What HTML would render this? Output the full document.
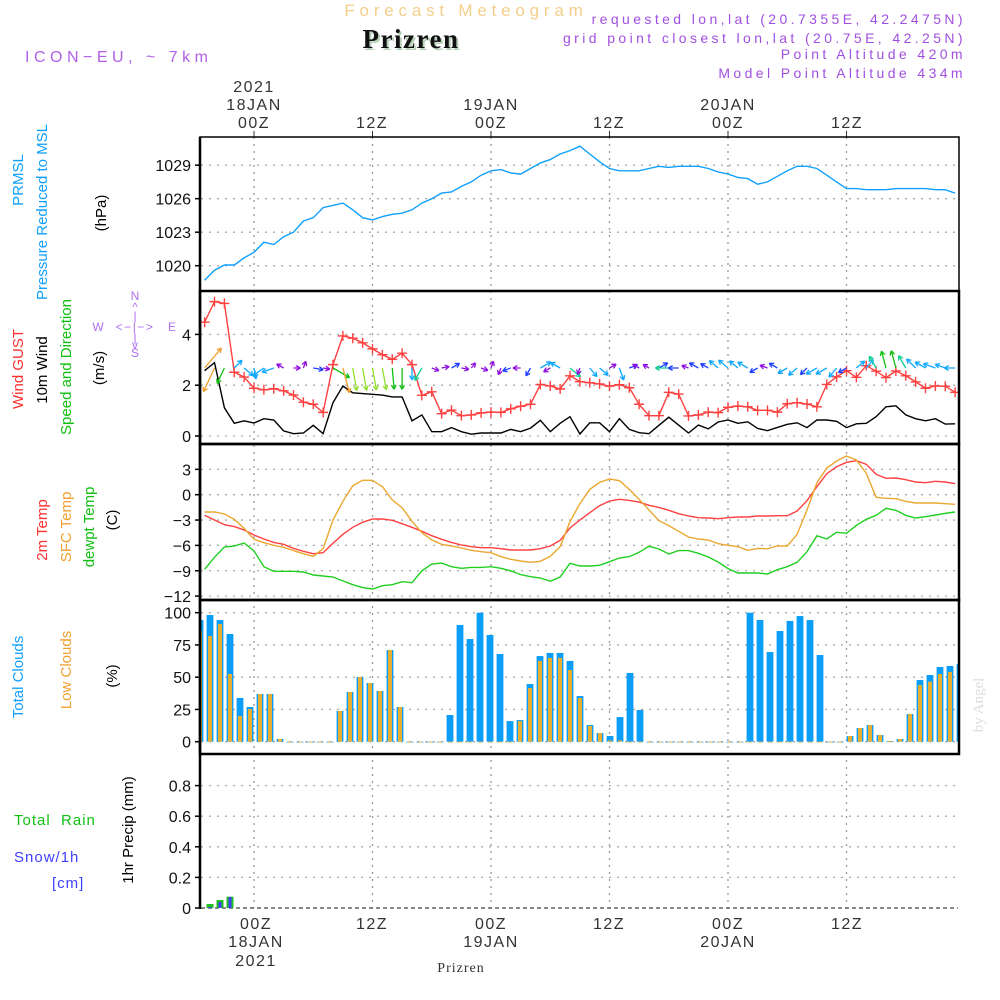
<!DOCTYPE html>
<html><head><meta charset="utf-8"><style>
html,body{margin:0;padding:0;background:#fff;}
svg{display:block;font-family:"Liberation Sans",sans-serif;}
</style></head><body>
<svg id="chart" width="1000" height="1000" viewBox="0 0 1000 1000" xmlns="http://www.w3.org/2000/svg">
<defs><clipPath id="plotclip"><rect x="201" y="137" width="758" height="772"/></clipPath></defs>
<rect width="1000" height="1000" fill="#fff"/>
<text x="466" y="16" text-anchor="middle" font-size="17" fill="#f4cf8c" letter-spacing="4.8">Forecast Meteogram</text>
<text x="413" y="50" text-anchor="middle" font-size="27" font-weight="bold" font-family="Liberation Serif,serif" fill="#b8d0b8" letter-spacing="1.5">Prizren</text>
<text x="411" y="48" text-anchor="middle" font-size="27" font-weight="bold" font-family="Liberation Serif,serif" fill="#111" letter-spacing="1.5">Prizren</text>
<text x="25" y="62" font-size="16" fill="#b060e8" letter-spacing="4.5">ICON−EU, ~ 7km</text>
<g font-size="14" fill="#a050e0" text-anchor="end" letter-spacing="3.4">
<text x="966" y="24">requested lon,lat (20.7355E, 42.2475N)</text>
<text x="966" y="43">grid point closest lon,lat (20.75E, 42.25N)</text>
<text x="966" y="59">Point Altitude 420m</text>
<text x="966" y="78">Model Point Altitude 434m</text>
</g>
<g id="grid"></g>
<g id="marks" clip-path="url(#plotclip)"></g>
<g id="frame"></g>
<g id="labels"></g>
<g font-size="16" fill="#333" text-anchor="middle" letter-spacing="1.5">
<text x="254" y="92">2021</text><text x="254" y="110">18JAN</text><text x="254" y="128">00Z</text>
<text x="372" y="128">12Z</text>
<text x="491" y="110">19JAN</text><text x="491" y="128">00Z</text>
<text x="609" y="128">12Z</text>
<text x="728" y="110">20JAN</text><text x="728" y="128">00Z</text>
<text x="847" y="128">12Z</text>
</g>
<g font-size="16" fill="#333" text-anchor="middle" letter-spacing="1.5">
<text x="256" y="929">00Z</text><text x="256" y="947">18JAN</text><text x="256" y="966">2021</text>
<text x="372" y="929">12Z</text>
<text x="491" y="929">00Z</text><text x="491" y="947">19JAN</text>
<text x="609" y="929">12Z</text>
<text x="728" y="929">00Z</text><text x="728" y="947">20JAN</text>
<text x="847" y="929">12Z</text>
</g>
<text x="461" y="972" text-anchor="middle" font-size="14" font-family="Liberation Serif,serif" fill="#333" letter-spacing="1">Prizren</text>
<text x="983" y="705" transform="rotate(-90 983 705)" text-anchor="middle" font-size="15" font-family="Liberation Serif,serif" fill="#ddd">by Angel</text>
<g font-size="15">
<text transform="translate(23,180) rotate(-90)" text-anchor="middle" fill="#10a0ff">PRMSL</text>
<text transform="translate(47,212) rotate(-90)" text-anchor="middle" fill="#10a0ff">Pressure Reduced to MSL</text>
<text transform="translate(106,213) rotate(-90)" text-anchor="middle" fill="#000">(hPa)</text>
<text transform="translate(23,369) rotate(-90)" text-anchor="middle" fill="#ff3030">Wind GUST</text>
<text transform="translate(47,370) rotate(-90)" text-anchor="middle" fill="#000">10m Wind</text>
<text transform="translate(71,367) rotate(-90)" text-anchor="middle" fill="#10c010">Speed and Direction</text>
<text transform="translate(104,368) rotate(-90)" text-anchor="middle" fill="#000">(m/s)</text>
<text transform="translate(47,530) rotate(-90)" text-anchor="middle" fill="#ff3030">2m Temp</text>
<text transform="translate(71,527) rotate(-90)" text-anchor="middle" fill="#f0a030">SFC Temp</text>
<text transform="translate(94,527) rotate(-90)" text-anchor="middle" fill="#10c010">dewpt Temp</text>
<text transform="translate(117,520) rotate(-90)" text-anchor="middle" fill="#000">(C)</text>
<text transform="translate(23,677) rotate(-90)" text-anchor="middle" fill="#10a0ff">Total Clouds</text>
<text transform="translate(71,670) rotate(-90)" text-anchor="middle" fill="#f0a030">Low Clouds</text>
<text transform="translate(117,676) rotate(-90)" text-anchor="middle" fill="#000">(%)</text>
<text transform="translate(133,830) rotate(-90)" text-anchor="middle" fill="#000">1hr Precip (mm)</text>
<text x="14" y="825" fill="#10c010" xml:space="preserve" letter-spacing="1">Total  Rain</text>
<text x="14" y="862" fill="#4040ff" letter-spacing="1">Snow/1h</text>
<text x="52" y="888" fill="#4040ff" letter-spacing="1">[cm]</text>
</g>
<g font-size="12" fill="#b070f0" text-anchor="middle">
<text x="135" y="300">N</text><text x="135" y="311">^</text><text x="135" y="320">|</text>
<text x="98" y="331">W</text><text x="135" y="331" letter-spacing="1.5">&lt;−|−&gt;</text><text x="172" y="331">E</text>
<text x="135" y="342">|</text><text x="135" y="349">v</text><text x="135" y="357">S</text>
</g>
<script>
const hours=[];for(let h=-5;h<=71;h++)hours.push(h);
const pressure=[1018.7,1019.6,1020.06,1020.06,1020.7,1021.2,1022.1,1021.9,1022.6,1023.0,1024.0,1024.3,1025.2,1025.4,1025.6,1025.0,1024.3,1024.1,1024.4,1024.6,1024.7,1025.0,1025.6,1026.0,1026.5,1026.6,1027.1,1027.5,1028.1,1028.5,1028.6,1028.3,1028.2,1028.7,1029.2,1029.5,1030.0,1030.3,1030.7,1030.0,1029.3,1028.7,1028.5,1028.5,1028.5,1028.7,1028.9,1028.8,1028.9,1028.9,1028.9,1028.7,1028.4,1028.2,1027.9,1027.8,1027.3,1027.5,1028.0,1028.5,1028.9,1028.9,1028.7,1028.1,1027.5,1026.9,1026.9,1026.8,1026.8,1026.8,1026.9,1026.9,1026.9,1026.9,1026.8,1026.8,1026.5];
const gust=[4.48,5.29,5.22,2.51,2.32,1.88,1.82,1.86,1.78,1.61,1.33,1.25,0.93,2.81,3.94,3.85,3.67,3.43,3.2,3.02,3.26,2.81,1.6,1.74,0.88,1.02,0.8,0.83,0.91,0.94,0.93,1.07,1.17,1.25,2.03,1.97,1.85,2.37,2.14,2.10,2.05,1.96,2.02,1.90,1.25,0.80,0.80,1.72,1.65,0.79,0.83,0.94,0.92,1.13,1.18,1.15,1.01,1.01,0.94,1.27,1.31,1.26,1.15,2.03,2.33,2.57,2.31,2.77,2.55,2.30,2.56,2.37,2.13,1.88,1.97,1.96,1.72];
const wind10m=[2.57,2.89,1.11,0.5,0.6,0.51,0.68,0.63,0.2,0.09,0.12,0.42,0.09,1.31,1.97,1.7,1.67,1.64,1.61,1.54,1.54,0.6,0.83,0.17,0.17,0.33,0.17,0.07,0.12,0.12,0.12,0.26,0.17,0.31,0.62,0.17,0.5,0.76,0.08,0.52,0.52,0.17,0.68,0.26,0.13,0.09,0.42,0.74,0.43,0.12,0.43,0.28,0.55,0.63,0.5,0.56,0.3,0.21,0.34,0.46,0.52,0.33,0.63,0.63,0.58,0.33,0.48,0.5,0.76,1.15,1.19,0.83,0.68,0.6,0.68,0.47,0.48];
const windToDir=[40,205,205,45,130,170,235,250,300,90,20,100,100,120,165,170,170,170,170,175,180,180,210,110,80,60,100,40,110,20,200,250,270,210,60,240,300,130,200,140,130,60,160,70,300,300,60,270,270,290,300,300,310,310,310,300,240,290,300,240,230,225,240,240,220,240,50,40,330,345,345,330,315,300,290,290,270];
const temp2m=[-2.44,-3.0,-3.55,-3.78,-4.18,-4.77,-5.24,-5.64,-5.87,-6.35,-6.7,-6.98,-6.86,-5.75,-4.69,-3.86,-3.27,-2.88,-2.88,-3.03,-3.43,-3.86,-4.33,-4.85,-5.28,-5.64,-5.95,-6.15,-6.27,-6.27,-6.39,-6.54,-6.54,-6.54,-6.39,-6.07,-5.4,-3.94,-3.0,-2.13,-1.3,-0.75,-0.55,-0.67,-0.87,-1.26,-1.5,-1.85,-2.25,-2.52,-2.72,-2.76,-2.84,-2.72,-2.64,-2.64,-2.52,-2.52,-2.48,-2.48,-1.93,-0.71,0.95,2.49,3.31,3.83,4.02,3.6,2.41,1.94,1.98,1.78,1.5,1.42,1.58,1.5,1.3];
const tempSfc=[-2.05,-2.05,-2.28,-2.91,-3.98,-5.28,-5.68,-5.99,-6.23,-6.62,-6.98,-7.29,-6.39,-2.99,-0.78,1.07,1.7,1.7,0.95,-0.63,-1.54,-3.15,-4.5,-5.36,-5.87,-6.07,-6.31,-6.58,-6.74,-6.86,-7.34,-7.65,-7.85,-8.0,-7.88,-7.29,-6.15,-3.19,-1.05,0.63,1.46,1.86,1.66,0.63,-0.55,-1.81,-3.07,-3.66,-4.33,-5.0,-5.24,-5.36,-5.8,-5.99,-6.15,-6.58,-6.35,-6.39,-6.07,-6.07,-4.69,-1.81,1.42,3.16,3.99,4.58,4.11,2.53,-0.31,-0.43,-0.47,-0.78,-0.98,-0.98,-0.98,-1.06,-1.14];
const dewpt=[-8.83,-7.41,-6.19,-6.07,-5.72,-6.66,-8.52,-9.07,-9.07,-9.07,-9.15,-9.5,-9.62,-9.74,-10.2,-10.65,-11.0,-11.16,-10.77,-10.65,-10.3,-10.41,-9.0,-8.2,-8.09,-8.52,-8.71,-8.6,-8.6,-8.52,-8.71,-9.0,-9.46,-9.7,-9.86,-10.25,-9.74,-8.12,-8.44,-8.44,-8.36,-7.93,-7.49,-7.33,-6.82,-6.11,-6.43,-7.02,-6.62,-6.62,-6.94,-7.37,-7.96,-8.75,-9.27,-9.27,-9.27,-9.38,-8.87,-8.52,-8.0,-6.74,-4.85,-5.24,-4.45,-4.57,-3.62,-2.91,-2.44,-1.61,-1.85,-2.44,-2.76,-2.6,-2.4,-2.2,-2.05];
const totalClouds=[94.3,98.2,94.3,83.5,33.9,26.9,37,37,2.1,0,0,0,0,0,23.8,38.5,50.2,45.5,39.3,71.1,26.9,0,0,0,0,20.7,90.5,79.6,100,82.7,68,16,16.8,44.7,66.4,68.8,68.8,62.6,35.4,12.9,6.7,4.4,19.1,53.3,24.6,0,0,0,0,0,0,0,0,0,0,100,94.3,69.5,85.8,93.6,97.4,94.3,67.2,0,0,4.4,10.6,12.9,5.2,0.5,2.1,21.5,47.8,51.7,57.9,58.7,60.2];
const lowClouds=[85.8,81.9,91.2,52.5,19.9,25.3,37,37,2.1,0,0,0,0,0,23.8,38.5,50.2,45.5,39.3,71.1,26.9,0,0,0,0,0,0,0,0,0,0,0,16,41.6,62.6,64.9,64.9,55.6,33.9,12.2,6.7,1,1,0,0,0,0,0,0,0,0,0,0,0,0,0,0,0,0,0,0,0,0,0,0,4.4,10.6,12.9,5.2,0.5,2.1,21.5,43.9,46.5,52.5,54.1,53.3];
const rainMm=[0,0.026,0.052,0.074];
const snowCm=[0,0.007,0.04,0.072];
const pTicks=[1020,1023,1026,1029];
const wTicks=[0,2,4];
const tTicks=[3,0,-3,-6,-9,-12];
const cTicks=[0,25,50,75,100];
const rTicks=[0,0.2,0.4,0.6,0.8];
const rTickLabels=["0","0.2","0.4","0.6","0.8"];
const timeGridHours=[0,12,24,36,48,60];

const NS="http://www.w3.org/2000/svg";
const X=h=>254+h*9.875;
const barX=i=>200+10*i;
const yP=p=>265.7-(p-1020)*11.17;
const yW=v=>436-v*25.4;
const yT=t=>494.7-t*8.45;
const yC=c=>741.7-c*1.29;
const yR=r=>908-r*153;
function mk(tag,attrs,parent){const e=document.createElementNS(NS,tag);for(const k in attrs)e.setAttribute(k,attrs[k]);parent.appendChild(e);return e;}
const grid=document.getElementById('grid'),marks=document.getElementById('marks'),frame=document.getElementById('frame'),labels=document.getElementById('labels');
const panels=[[137,291],[291,444],[444,600],[600,754],[754,908]];
timeGridHours.forEach(h=>{const l=mk('line',{x1:X(h),x2:X(h),y1:137,y2:908,stroke:'#999','stroke-width':1.3,'stroke-dasharray':'2,5'},grid);


mk('line',{x1:X(h),x2:X(h),y1:131,y2:137,stroke:'#333'},grid);});
function hTicks(ticks,yf,fmt,dashZero){ticks.forEach((t,i)=>{const y=yf(t);
const l=mk('line',{x1:201,x2:958,y1:y,y2:y,stroke:(dashZero&&t===0)?'#444':'#aaa','stroke-width':1.3,'stroke-dasharray':(dashZero&&t===0)?'4,3':'2,6'},grid);


mk('line',{x1:195,x2:201,y1:y,y2:y,stroke:'#000','stroke-width':1.5},grid);
const tx=mk('text',{x:191,y:y+6,'text-anchor':'end','font-size':16,fill:'#111'},labels);tx.textContent=fmt(t,i);

});}
hTicks(pTicks,yP,t=>String(t));
hTicks(wTicks,yW,t=>String(t));
hTicks(tTicks,yT,t=>String(t).replace('-','−'));
hTicks(cTicks,yC,t=>String(t));
hTicks(rTicks,yR,(t,i)=>rTickLabels[i],true);
panels.slice(0,4).forEach(([a,b])=>{mk('rect',{x:200,y:a,width:759,height:b-a,fill:'none',stroke:'#000','stroke-width':a===137?1.5:2.5},frame);});
mk('line',{x1:200,x2:200,y1:137,y2:909,stroke:'#000','stroke-width':2.5},frame);
function line(vals,yf,color,name){const pts=vals.map((v,i)=>X(hours[i]).toFixed(1)+','+yf(v).toFixed(1)).join(' ');
const p=mk('polyline',{points:pts,fill:'none',stroke:color,'stroke-width':1.4},marks);

return p;}
totalClouds.forEach((c,i)=>{const r=mk('rect',{x:barX(i)-3.4,y:yC(c),width:6.8,height:Math.max(0.8,yC(0)-yC(c)),fill:'#0a9ef8'},marks);

});
lowClouds.forEach((c,i)=>{const r=mk('rect',{x:barX(i)-2,y:yC(c),width:4,height:Math.max(0.8,yC(0)-yC(c)),fill:'#e8ae30'},marks);

});
rainMm.forEach((r,i)=>{if(r<=0)return;const e=mk('rect',{x:barX(i)-3.5,y:yR(r),width:7,height:yR(0)-yR(r),fill:'#20c020'},marks);

});
snowCm.forEach((r,i)=>{if(r<=0)return;const e=mk('rect',{x:barX(i)-1.5,y:yR(r),width:3,height:yR(0)-yR(r),fill:'#4040ff'},marks);

});
line(pressure,yP,'#10a0ff','pressure-line');
line(wind10m,yW,'#000','wind10m-line');
line(gust,yW,'#ff4040','gust-line');
gust.forEach((g,i)=>{const x=X(hours[i]),y=yW(g);
const m=mk('path',{d:`M${x-5},${y}H${x+5}M${x},${y-5}V${y+5}`,stroke:'#ff4040','stroke-width':1.4,fill:'none'},marks);

});
function wcol(s){if(s>=1.9)return'#f0a030';if(s>=1.55)return'#90e030';if(s>=1.1)return'#10c010';if(s>=0.7)return'#10d090';if(s>=0.45)return'#10a8ff';if(s>=0.25)return'#2040ff';return'#9010e0';}
wind10m.forEach((s,i)=>{const x=X(hours[i]),y=368,a=windToDir[i]*Math.PI/180,L=Math.min(26,6+s*10);
const ex=x+Math.sin(a)*L,ey=y-Math.cos(a)*L;
const b1=a+Math.PI-0.5,b2=a+Math.PI+0.5;
const d=`M${x},${y}L${ex},${ey}M${ex},${ey}L${ex+Math.sin(b1)*5},${ey-Math.cos(b1)*5}M${ex},${ey}L${ex+Math.sin(b2)*5},${ey-Math.cos(b2)*5}`;
const p=mk('path',{d:d,stroke:wcol(s),'stroke-width':1.3,fill:'none'},marks);

});
line(temp2m,yT,'#ff4040','temp-2m-line');
line(tempSfc,yT,'#eaa830','temp-sfc-line');
line(dewpt,yT,'#20d020','dewpoint-line');
</script>
</svg>
</body></html>
